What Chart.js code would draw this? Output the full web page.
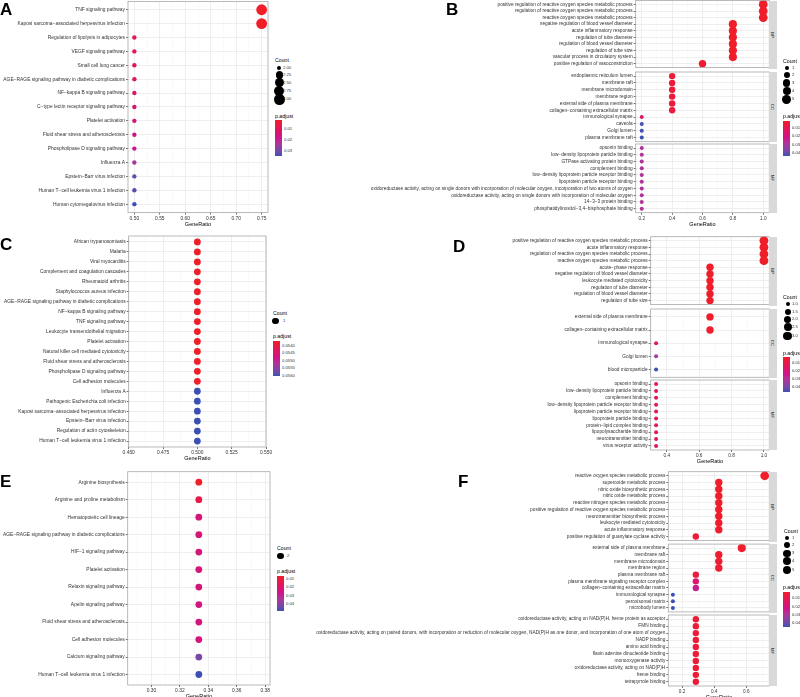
<!DOCTYPE html>
<html>
<head>
<meta charset="utf-8">
<title>Enrichment dot plots</title>
<script src="https://cdn.jsdelivr.net/npm/chart.js@4.4.1/dist/chart.umd.min.js"></script>
<style>
  html, body { margin: 0; padding: 0; background: #fff; }
  body { position: relative; width: 800px; height: 697px; overflow: hidden; }
  canvas { position: absolute; }
  .txt { position: absolute; white-space: nowrap; font-size: 20px; line-height: 20px; }
  .strip { position: absolute; background: #D9D9D9; }
  .dot { position: absolute; background: #000; border-radius: 50%; }
  .cbar { position: absolute; }
</style>
</head>
<body>
<script>
// ---------- A: KEGG ----------
const aTerms = ["TNF signaling pathway", "Kaposi sarcoma−associated herpesvirus infection", "Regulation of lipolysis in adipocytes",
  "VEGF signaling pathway", "Small cell lung cancer", "AGE−RAGE signaling pathway in diabetic complications",
  "NF−kappa B signaling pathway", "C−type lectin receptor signaling pathway", "Platelet activation",
  "Fluid shear stress and atherosclerosis", "Phospholipase D signaling pathway", "Influenza A",
  "Epstein−Barr virus infection", "Human T−cell leukemia virus 1 infection", "Human cytomegalovirus infection"];
const aRatio = [0.75, 0.75, 0.5, 0.5, 0.5, 0.5, 0.5, 0.5, 0.5, 0.5, 0.5, 0.5, 0.5, 0.5, 0.5];
const aCount = [3, 3, 2, 2, 2, 2, 2, 2, 2, 2, 2, 2, 2, 2, 2];
const aPadj = [0.0018, 0.0020, 0.0083, 0.0090, 0.0100, 0.0116, 0.0126, 0.0139, 0.0155, 0.0168, 0.0182, 0.0240, 0.0312, 0.0329, 0.0345];
const aXTicks = [0.50, 0.55, 0.60, 0.65, 0.70, 0.75];
const aCountBreaks = [2.00, 2.25, 2.50, 2.75, 3.00];
const aPadjBreaks = [0.01, 0.02, 0.03];

// ---------- B: GO ----------
const bBPTerms = ["positive regulation of reactive oxygen species metabolic process", "regulation of reactive oxygen species metabolic process",
  "reactive oxygen species metabolic process", "negative regulation of blood vessel diameter", "acute inflammatory response",
  "regulation of tube diameter", "regulation of blood vessel diameter", "regulation of tube size",
  "vascular process in circulatory system", "positive regulation of vasoconstriction"];
const bBPRatio = [1.0, 1.0, 1.0, 0.8, 0.8, 0.8, 0.8, 0.8, 0.8, 0.6];
const bBPCount = [5, 5, 5, 4, 4, 4, 4, 4, 4, 3];
const bBPPadj = [0.0018, 0.0018, 0.0019, 0.0021, 0.0022, 0.0022, 0.0023, 0.0023, 0.0024, 0.0030];
const bCCTerms = ["endoplasmic reticulum lumen", "membrane raft", "membrane microdomain", "membrane region",
  "external side of plasma membrane", "collagen−containing extracellular matrix", "immunological synapse",
  "caveola", "Golgi lumen", "plasma membrane raft"];
const bCCRatio = [0.4, 0.4, 0.4, 0.4, 0.4, 0.4, 0.2, 0.2, 0.2, 0.2];
const bCCCount = [2, 2, 2, 2, 2, 2, 1, 1, 1, 1];
const bCCPadj = [0.0050, 0.0052, 0.0052, 0.0054, 0.0056, 0.0058, 0.0150, 0.0425, 0.0430, 0.0435];
const bMFTerms = ["opsonin binding", "low−density lipoprotein particle binding", "GTPase activating protein binding",
  "complement binding", "low−density lipoprotein particle receptor binding", "lipoprotein particle receptor binding",
  "oxidoreductase activity, acting on single donors with incorporation of molecular oxygen, incorporation of two atoms of oxygen",
  "oxidoreductase activity, acting on single donors with incorporation of molecular oxygen",
  "14−3−3 protein binding", "phosphatidylinositol−3,4−bisphosphate binding"];
const bMFRatio = [0.2, 0.2, 0.2, 0.2, 0.2, 0.2, 0.2, 0.2, 0.2, 0.2];
const bMFCount = [1, 1, 1, 1, 1, 1, 1, 1, 1, 1];
const bMFPadj = [0.0280, 0.0280, 0.0280, 0.0280, 0.0280, 0.0280, 0.0280, 0.0280, 0.0280, 0.0280];
const bXTicks = [0.2, 0.4, 0.6, 0.8, 1.0];
const bCountBreaks = [1, 2, 3, 4, 5];
const bPadjBreaks = [0.01, 0.02, 0.03, 0.04];

// ---------- C: KEGG ----------
const cTerms = ["African trypanosomiasis", "Malaria", "Viral myocarditis", "Complement and coagulation cascades",
  "Rheumatoid arthritis", "Staphylococcus aureus infection", "AGE−RAGE signaling pathway in diabetic complications",
  "NF−kappa B signaling pathway", "TNF signaling pathway", "Leukocyte transendothelial migration", "Platelet activation",
  "Natural killer cell mediated cytotoxicity", "Fluid shear stress and atherosclerosis", "Phospholipase D signaling pathway",
  "Cell adhesion molecules", "Influenza A", "Pathogenic Escherichia coli infection",
  "Kaposi sarcoma−associated herpesvirus infection", "Epstein−Barr virus infection",
  "Regulation of actin cytoskeleton", "Human T−cell leukemia virus 1 infection"];
const cRatio = [0.5, 0.5, 0.5, 0.5, 0.5, 0.5, 0.5, 0.5, 0.5, 0.5, 0.5, 0.5, 0.5, 0.5, 0.5, 0.5, 0.5, 0.5, 0.5, 0.5, 0.5];
const cCount = [1, 1, 1, 1, 1, 1, 1, 1, 1, 1, 1, 1, 1, 1, 1, 1, 1, 1, 1, 1, 1];
const cPadj = [0.05366, 0.05366, 0.05366, 0.05366, 0.05366, 0.05366, 0.05366, 0.05366, 0.05366, 0.05366,
  0.05366, 0.05366, 0.05366, 0.05366, 0.05366, 0.05601, 0.05601, 0.05601, 0.05601, 0.05601, 0.05601];
const cXTicks = [0.450, 0.475, 0.500, 0.525, 0.550];
const cCountBreaks = [1];
const cPadjBreaks = [0.0540, 0.0545, 0.0550, 0.0555, 0.0560];

// ---------- D: GO ----------
const dBPTerms = ["positive regulation of reactive oxygen species metabolic process", "acute inflammatory response",
  "regulation of reactive oxygen species metabolic process", "reactive oxygen species metabolic process",
  "acute−phase response", "negative regulation of blood vessel diameter", "leukocyte mediated cytotoxicity",
  "regulation of tube diameter", "regulation of blood vessel diameter", "regulation of tube size"];
const dBPRatio = [1.0, 1.0, 1.0, 1.0, 0.6667, 0.6667, 0.6667, 0.6667, 0.6667, 0.6667];
const dBPCount = [3, 3, 3, 3, 2, 2, 2, 2, 2, 2];
const dBPPadj = [0.0023, 0.0023, 0.0024, 0.0024, 0.0026, 0.0026, 0.0027, 0.0027, 0.0028, 0.0028];
const dCCTerms = ["external side of plasma membrane", "collagen−containing extracellular matrix",
  "immunological synapse", "Golgi lumen", "blood microparticle"];
const dCCRatio = [0.6667, 0.6667, 0.3333, 0.3333, 0.3333];
const dCCCount = [2, 2, 1, 1, 1];
const dCCPadj = [0.0030, 0.0033, 0.0125, 0.0330, 0.0454];
const dMFTerms = ["opsonin binding", "low−density lipoprotein particle binding", "complement binding",
  "low−density lipoprotein particle receptor binding", "lipoprotein particle receptor binding",
  "lipoprotein particle binding", "protein−lipid complex binding", "lipopolysaccharide binding",
  "neurotransmitter binding", "virus receptor activity"];
const dMFRatio = [0.3333, 0.3333, 0.3333, 0.3333, 0.3333, 0.3333, 0.3333, 0.3333, 0.3333, 0.3333];
const dMFCount = [1, 1, 1, 1, 1, 1, 1, 1, 1, 1];
const dMFPadj = [0.0130, 0.0130, 0.0130, 0.0130, 0.0130, 0.0132, 0.0134, 0.0136, 0.0140, 0.0160];
const dXTicks = [0.4, 0.6, 0.8, 1.0];
const dCountBreaks = [1.0, 1.5, 2.0, 2.5, 3.0];
const dPadjBreaks = [0.01, 0.02, 0.03, 0.04];

// ---------- E: KEGG ----------
const eTerms = ["Arginine biosynthesis", "Arginine and proline metabolism", "Hematopoietic cell lineage",
  "AGE−RAGE signaling pathway in diabetic complications", "HIF−1 signaling pathway", "Platelet activation",
  "Relaxin signaling pathway", "Apelin signaling pathway", "Fluid shear stress and atherosclerosis",
  "Cell adhesion molecules", "Calcium signaling pathway", "Human T−cell leukemia virus 1 infection"];
const eRatio = [0.3333, 0.3333, 0.3333, 0.3333, 0.3333, 0.3333, 0.3333, 0.3333, 0.3333, 0.3333, 0.3333, 0.3333];
const eCount = [2, 2, 2, 2, 2, 2, 2, 2, 2, 2, 2, 2];
const ePadj = [0.0069, 0.0130, 0.0230, 0.0235, 0.0235, 0.0236, 0.0237, 0.0238, 0.0239, 0.0240, 0.0415, 0.0480];
const eXTicks = [0.30, 0.32, 0.34, 0.36, 0.38];
const eCountBreaks = [2];
const ePadjBreaks = [0.01, 0.02, 0.03, 0.04];

// ---------- F: GO ----------
const fBPTerms = ["reactive oxygen species metabolic process", "superoxide metabolic process",
  "nitric oxide biosynthetic process", "nitric oxide metabolic process", "reactive nitrogen species metabolic process",
  "positive regulation of reactive oxygen species metabolic process", "neurotransmitter biosynthetic process",
  "leukocyte mediated cytotoxicity", "acute inflammatory response", "positive regulation of guanylate cyclase activity"];
const fBPRatio = [0.7143, 0.4286, 0.4286, 0.4286, 0.4286, 0.4286, 0.4286, 0.4286, 0.4286, 0.2857];
const fBPCount = [5, 3, 3, 3, 3, 3, 3, 3, 3, 2];
const fBPPadj = [0.0020, 0.0022, 0.0023, 0.0024, 0.0025, 0.0026, 0.0027, 0.0028, 0.0030, 0.0045];
const fCCTerms = ["external side of plasma membrane", "membrane raft", "membrane microdomain", "membrane region",
  "plasma membrane raft", "plasma membrane signaling receptor complex", "collagen−containing extracellular matrix",
  "immunological synapse", "peroxisomal matrix", "microbody lumen"];
const fCCRatio = [0.5714, 0.4286, 0.4286, 0.4286, 0.2857, 0.2857, 0.2857, 0.1429, 0.1429, 0.1429];
const fCCCount = [4, 3, 3, 3, 2, 2, 2, 1, 1, 1];
const fCCPadj = [0.0030, 0.0035, 0.0036, 0.0037, 0.0060, 0.0160, 0.0240, 0.0441, 0.0441, 0.0441];
const fMFTerms = ["oxidoreductase activity, acting on NAD(P)H, heme protein as acceptor", "FMN binding",
  "oxidoreductase activity, acting on paired donors, with incorporation or reduction of molecular oxygen, NAD(P)H as one donor, and incorporation of one atom of oxygen",
  "NADP binding", "amino acid binding", "flavin adenine dinucleotide binding", "monooxygenase activity",
  "oxidoreductase activity, acting on NAD(P)H", "heme binding", "tetrapyrrole binding"];
const fMFRatio = [0.2857, 0.2857, 0.2857, 0.2857, 0.2857, 0.2857, 0.2857, 0.2857, 0.2857, 0.2857];
const fMFCount = [2, 2, 2, 2, 2, 2, 2, 2, 2, 2];
const fMFPadj = [0.0050, 0.0050, 0.0050, 0.0050, 0.0050, 0.0050, 0.0050, 0.0050, 0.0050, 0.0050];
const fXTicks = [0.2, 0.4, 0.6];
const fCountBreaks = [1, 2, 3, 4, 5];
const fPadjBreaks = [0.01, 0.02, 0.03, 0.04];

const FONT = '"Liberation Sans", Arial, Helvetica, sans-serif';
const TEXT = '#333333';
const GRID = '#EBEBEB';
const GRID_MINOR = '#F3F3F3';

// colour scale red (low p.adjust) -> magenta -> blue, mixed in Lab like ggplot
const colourStops = [[240, 30, 40], [204, 22, 140], [60, 80, 180]];

function toLin(v) { v /= 255; return v <= 0.04045 ? v / 12.92 : Math.pow((v + 0.055) / 1.055, 2.4); }
function fromLin(v) {
  v = v <= 0.0031308 ? 12.92 * v : 1.055 * Math.pow(Math.max(v, 0), 1 / 2.4) - 0.055;
  return Math.round(Math.min(1, Math.max(0, v)) * 255);
}
function rgbToLab(c) {
  const r = toLin(c[0]), g = toLin(c[1]), b = toLin(c[2]);
  const x = (0.4124 * r + 0.3576 * g + 0.1805 * b) / 0.95047;
  const y = 0.2126 * r + 0.7152 * g + 0.0722 * b;
  const z = (0.0193 * r + 0.1192 * g + 0.9505 * b) / 1.08883;
  const f = t => t > 0.008856 ? Math.cbrt(t) : 7.787 * t + 16 / 116;
  return [116 * f(y) - 16, 500 * (f(x) - f(y)), 200 * (f(y) - f(z))];
}
function labToRgb(l) {
  const fy = (l[0] + 16) / 116, fx = fy + l[1] / 500, fz = fy - l[2] / 200;
  const inv = t => t * t * t > 0.008856 ? t * t * t : (t - 16 / 116) / 7.787;
  const x = inv(fx) * 0.95047, y = inv(fy), z = inv(fz) * 1.08883;
  return [fromLin(3.2406 * x - 1.5372 * y - 0.4986 * z),
          fromLin(-0.9689 * x + 1.8758 * y + 0.0415 * z),
          fromLin(0.0557 * x - 0.2040 * y + 1.0570 * z)];
}
const stopLab = colourStops.map(rgbToLab);

function colourAt(t) {
  t = Math.min(1, Math.max(0, t));
  const seg = t < 0.5 ? 0 : 1;
  const u = (t - seg * 0.5) / 0.5;
  const a = stopLab[seg], b = stopLab[seg + 1];
  const rgb = labToRgb(a.map((v, k) => v + (b[k] - v) * u));
  return `rgb(${rgb.join(',')})`;
}
function padjScale(lo, hi) { return p => colourAt((p - lo) / (hi - lo)); }

// size like ggplot's area scale
function sizeScale(cMin, cMax, rMin, rMax) {
  return c => rMin + (rMax - rMin) * Math.sqrt((c - cMin) / (cMax - cMin));
}

const panelBorder = {
  id: 'panelBorder',
  afterDatasetsDraw(chart) {
    const { ctx, chartArea: a } = chart;
    ctx.save();
    ctx.strokeStyle = '#A8A8A8';
    ctx.lineWidth = 0.8;
    ctx.strokeRect(a.left, a.top, a.right - a.left, a.bottom - a.top);
    ctx.restore();
  }
};

function minorTicks(ticks, min, max) {
  const step = ticks[1] - ticks[0];
  const out = [ticks[0] - step / 2];
  ticks.forEach(t => out.push(t + step / 2));
  return out.filter(v => v >= min - 1e-9 && v <= max + 1e-9);
}

function dotFacet(p, f, showAxis) {
  const cl = p.canvasLeft;
  const ct = Math.floor(f.top) - 4;
  const axisH = showAxis ? 16 : 0;
  const cw = Math.ceil(p.right) + 6 - cl;
  const ch = Math.ceil(f.bottom + axisH) + 3 - ct;
  const canvas = document.createElement('canvas');
  canvas.width = cw; canvas.height = ch;
  canvas.style.left = cl + 'px'; canvas.style.top = ct + 'px';
  canvas.style.width = cw + 'px'; canvas.style.height = ch + 'px';
  document.body.appendChild(canvas);

  const xt = p.xTicks.map(v => ({ value: v, minor: false }))
    .concat(minorTicks(p.xTicks, p.xMin, p.xMax).map(v => ({ value: v, minor: true })))
    .sort((a, b) => a.value - b.value);
  const n = f.terms.length;
  const colour = padjScale(p.padjLimits[0], p.padjLimits[1]);

  new Chart(canvas, {
    type: 'scatter',
    data: {
      datasets: [{
        data: f.ratio.map((r, i) => ({ x: r, y: i })),
        pointRadius: f.count.map(p.size),
        pointHoverRadius: f.count.map(p.size),
        pointBackgroundColor: f.padj.map(colour),
        pointBorderWidth: 0,
        clip: false
      }]
    },
    options: {
      responsive: false,
      animation: false,
      devicePixelRatio: 1,
      events: [],
      layout: {
        padding: {
          left: 0,
          top: f.top - ct,
          right: cl + cw - p.right,
          bottom: ch - (f.bottom - ct) - axisH
        }
      },
      plugins: { legend: { display: false }, tooltip: { enabled: false } },
      scales: {
        x: {
          type: 'linear', position: 'bottom', min: p.xMin, max: p.xMax,
          afterBuildTicks: s => { s.ticks = xt.map(t => ({ value: t.value, minor: t.minor })); },
          afterFit: s => { s.height = axisH; s.paddingLeft = 0; s.paddingRight = 0; },
          border: { display: false },
          grid: {
            color: c => (c.tick && c.tick.minor) ? GRID_MINOR : GRID,
            lineWidth: c => (c.tick && c.tick.minor) ? 0.5 : 0.8,
            drawTicks: showAxis, tickLength: 2, tickWidth: 0.7,
            tickColor: c => (c.tick && c.tick.minor) ? 'rgba(0,0,0,0)' : '#333'
          },
          ticks: {
            display: showAxis, autoSkip: false, maxRotation: 0, minRotation: 0, padding: 1,
            color: TEXT, font: { family: FONT, size: p.tickSize },
            callback: (v, i, ticks) => ticks[i].minor ? '' : v.toFixed(p.digits)
          },
          title: {
            display: showAxis, text: 'GeneRatio', color: '#000',
            font: { family: FONT, size: 5.5 }, padding: { top: 0, bottom: 1.2 }
          }
        },
        y: {
          type: 'linear', reverse: true, min: -0.6, max: n - 0.4,
          afterBuildTicks: s => { s.ticks = f.terms.map((t, i) => ({ value: i })); },
          afterFit: s => { s.width = p.left - cl; s.paddingTop = 0; s.paddingBottom = 0; },
          border: { display: false },
          grid: { color: GRID, lineWidth: 0.8, drawTicks: true, tickLength: 2, tickWidth: 0.7, tickColor: '#333' },
          ticks: {
            autoSkip: false, padding: 1, color: TEXT,
            font: { family: FONT, size: p.labelSize },
            callback: v => f.terms[Math.round(v)]
          }
        }
      }
    },
    plugins: [panelBorder]
  });
}

// small text; drawn large and scaled down so tiny sizes are kept
function addText(str, x, y, size, opts = {}) {
  const el = document.createElement('div');
  el.className = 'txt';
  el.textContent = str;
  el.style.left = x + 'px';
  el.style.top = (y - 10) + 'px';
  el.style.fontFamily = FONT;
  el.style.color = opts.color || '#000';
  if (opts.bold) el.style.fontWeight = 'bold';
  const k = size / 20;
  if (opts.rotate) {
    el.style.transformOrigin = '50% 50%';
    el.style.transform = `translate(-50%, 0) rotate(90deg) scale(${k})`;
  } else {
    el.style.transformOrigin = '0 50%';
    el.style.transform = `scale(${k})`;
  }
  document.body.appendChild(el);
  return el;
}

function addLetter(ch, x, capTop) {
  const el = document.createElement('div');
  el.textContent = ch;
  el.style.cssText = `position:absolute;left:${x}px;top:${capTop - 2.2}px;font:bold 17px/17px ${FONT};color:#000`;
  document.body.appendChild(el);
}

function addStrip(x, top, bottom, label) {
  const el = document.createElement('div');
  el.className = 'strip';
  el.style.cssText += `left:${x}px;top:${top}px;width:7.4px;height:${bottom - top}px;`;
  document.body.appendChild(el);
  addText(label, x + 3.7, (top + bottom) / 2, 4.4, { rotate: true, color: '#1A1A1A' });
}

function addCountLegend(p) {
  const L = p.countLegend;
  addText('Count', L.titleX, L.titleY, 5.2);
  p.countBreaks.forEach((b, i) => {
    const r = p.size(b);
    const d = document.createElement('div');
    d.className = 'dot';
    d.style.left = (L.dotX - r) + 'px';
    d.style.top = (L.ys[i] - r) + 'px';
    d.style.width = 2 * r + 'px';
    d.style.height = 2 * r + 'px';
    document.body.appendChild(d);
    addText(b.toFixed(p.countDigits), L.labelX, L.ys[i], 4.2, { color: TEXT });
  });
}

function addColourBar(p) {
  const C = p.colourBar;
  const [lo, hi] = p.padjLimits;
  addText('p.adjust', C.titleX, C.titleY, 5.2);
  const stops = [];
  for (let i = 0; i <= 20; i++) stops.push(`${colourAt(i / 20)} ${i * 5}%`);
  const bar = document.createElement('div');
  bar.className = 'cbar';
  bar.style.left = C.x + 'px';
  bar.style.top = C.top + 'px';
  bar.style.width = C.w + 'px';
  bar.style.height = (C.bottom - C.top) + 'px';
  bar.style.background = `linear-gradient(to bottom, ${stops.join(',')})`;
  document.body.appendChild(bar);
  p.padjBreaks.forEach(b => {
    const y = C.top + (b - lo) / (hi - lo) * (C.bottom - C.top);
    addText(b.toFixed(p.padjDigits), C.labelX, y, 4.2, { color: TEXT });
  });
}

const panels = [
  { letter: 'A', letterX: 0, letterTop: 2.7, canvasLeft: 0, left: 128, right: 268,
    xMin: 0.4875, xMax: 0.7625, xTicks: aXTicks, digits: 2, labelSize: 4.9, tickSize: 4.9,
    size: sizeScale(2, 3, 2.2, 5.4), padjLimits: [0.0018, 0.0345],
    facets: [{ terms: aTerms, ratio: aRatio, count: aCount, padj: aPadj, top: 0.5, bottom: 212.5 }],
    countBreaks: aCountBreaks, countDigits: 2, padjBreaks: aPadjBreaks, padjDigits: 2,
    countLegend: { titleX: 275.3, titleY: 60.3, dotX: 279.3, ys: [67.7, 75, 82.7, 90.7, 99.3], labelX: 282.5 },
    colourBar: { titleX: 275.3, titleY: 116, x: 275.3, w: 6.7, top: 120, bottom: 156, labelX: 284 } },
  { letter: 'B', letterX: 446, letterTop: 3.3, canvasLeft: 290, left: 635.7, right: 769.3,
    xMin: 0.16, xMax: 1.04, xTicks: bXTicks, digits: 1, labelSize: 4.75, tickSize: 4.7,
    size: sizeScale(1, 5, 2.0, 4.4), padjLimits: [0.0018, 0.0435],
    facets: [
      { name: 'BP', terms: bBPTerms, ratio: bBPRatio, count: bBPCount, padj: bBPPadj, top: 0.5, bottom: 69 },
      { name: 'CC', terms: bCCTerms, ratio: bCCRatio, count: bCCCount, padj: bCCPadj, top: 72, bottom: 141.7 },
      { name: 'MF', terms: bMFTerms, ratio: bMFRatio, count: bMFCount, padj: bMFPadj, top: 144, bottom: 212.7 }],
    countBreaks: bCountBreaks, countDigits: 0, padjBreaks: bPadjBreaks, padjDigits: 2,
    countLegend: { titleX: 782.7, titleY: 61, dotX: 786.7, ys: [67.7, 75.3, 83, 90.7, 99.3], labelX: 791.7 },
    colourBar: { titleX: 782.7, titleY: 116.3, x: 783, w: 7, top: 121, bottom: 156, labelX: 792 } },
  { letter: 'C', letterX: 0, letterTop: 237.7, canvasLeft: 0, left: 128.7, right: 266,
    xMin: 0.45, xMax: 0.55, xTicks: cXTicks, digits: 3, labelSize: 4.9, tickSize: 4.9,
    size: () => 3.4, padjLimits: [0.05366, 0.05601],
    facets: [{ terms: cTerms, ratio: cRatio, count: cCount, padj: cPadj, top: 236, bottom: 447 }],
    countBreaks: cCountBreaks, countDigits: 0, padjBreaks: cPadjBreaks, padjDigits: 4,
    countLegend: { titleX: 273, titleY: 312.7, dotX: 275.7, ys: [321], labelX: 282.7 },
    colourBar: { titleX: 272.7, titleY: 336, x: 272.7, w: 7.3, top: 341, bottom: 375.7, labelX: 282 } },
  { letter: 'D', letterX: 453, letterTop: 240, canvasLeft: 290, left: 650.7, right: 769.3,
    xMin: 0.3, xMax: 1.0333, xTicks: dXTicks, digits: 1, labelSize: 4.75, tickSize: 4.7,
    size: sizeScale(1, 3, 2.0, 4.4), padjLimits: [0.0023, 0.0454],
    facets: [
      { name: 'BP', terms: dBPTerms, ratio: dBPRatio, count: dBPCount, padj: dBPPadj, top: 236.7, bottom: 306 },
      { name: 'CC', terms: dCCTerms, ratio: dCCRatio, count: dCCCount, padj: dCCPadj, top: 309, bottom: 377.7 },
      { name: 'MF', terms: dMFTerms, ratio: dMFRatio, count: dMFCount, padj: dMFPadj, top: 380, bottom: 450 }],
    countBreaks: dCountBreaks, countDigits: 1, padjBreaks: dPadjBreaks, padjDigits: 2,
    countLegend: { titleX: 782.7, titleY: 297, dotX: 787.7, ys: [304.3, 311.7, 319.3, 327, 336], labelX: 791.7 },
    colourBar: { titleX: 782.7, titleY: 352.7, x: 783, w: 7, top: 356.7, bottom: 391.7, labelX: 792 } },
  { letter: 'E', letterX: 0, letterTop: 475, canvasLeft: 0, left: 127.7, right: 270,
    xMin: 0.28333, xMax: 0.38333, xTicks: eXTicks, digits: 2, labelSize: 4.9, tickSize: 4.9,
    size: () => 3.4, padjLimits: [0.0069, 0.0480],
    facets: [{ terms: eTerms, ratio: eRatio, count: eCount, padj: ePadj, top: 471.7, bottom: 685 }],
    countBreaks: eCountBreaks, countDigits: 0, padjBreaks: ePadjBreaks, padjDigits: 2,
    countLegend: { titleX: 276.7, titleY: 547.7, dotX: 280.7, ys: [556], labelX: 286.7 },
    colourBar: { titleX: 276.7, titleY: 571, x: 277.3, w: 6.7, top: 576, bottom: 611.3, labelX: 286 } },
  { letter: 'F', letterX: 458, letterTop: 475, canvasLeft: 290, left: 668.3, right: 769.3,
    xMin: 0.11429, xMax: 0.74286, xTicks: fXTicks, digits: 1, labelSize: 4.75, tickSize: 4.7,
    size: sizeScale(1, 5, 2.0, 4.4), padjLimits: [0.0020, 0.0441],
    facets: [
      { name: 'BP', terms: fBPTerms, ratio: fBPRatio, count: fBPCount, padj: fBPPadj, top: 471.7, bottom: 542 },
      { name: 'CC', terms: fCCTerms, ratio: fCCRatio, count: fCCCount, padj: fCCPadj, top: 544, bottom: 612.7 },
      { name: 'MF', terms: fMFTerms, ratio: fMFRatio, count: fMFCount, padj: fMFPadj, top: 615, bottom: 686 }],
    countBreaks: fCountBreaks, countDigits: 0, padjBreaks: fPadjBreaks, padjDigits: 2,
    countLegend: { titleX: 784, titleY: 531, dotX: 787, ys: [537.7, 545.3, 553.3, 561, 570], labelX: 791.7 },
    colourBar: { titleX: 783, titleY: 587.3, x: 783, w: 7, top: 591.7, bottom: 626.7, labelX: 792 } }
];

panels.forEach(p => {
  p.facets.forEach((f, i) => {
    dotFacet(p, f, i === p.facets.length - 1);
    if (f.name) addStrip(p.right, f.top, f.bottom, f.name);
  });
  addLetter(p.letter, p.letterX, p.letterTop);
  addCountLegend(p);
  addColourBar(p);
});
</script>
</body>
</html>
